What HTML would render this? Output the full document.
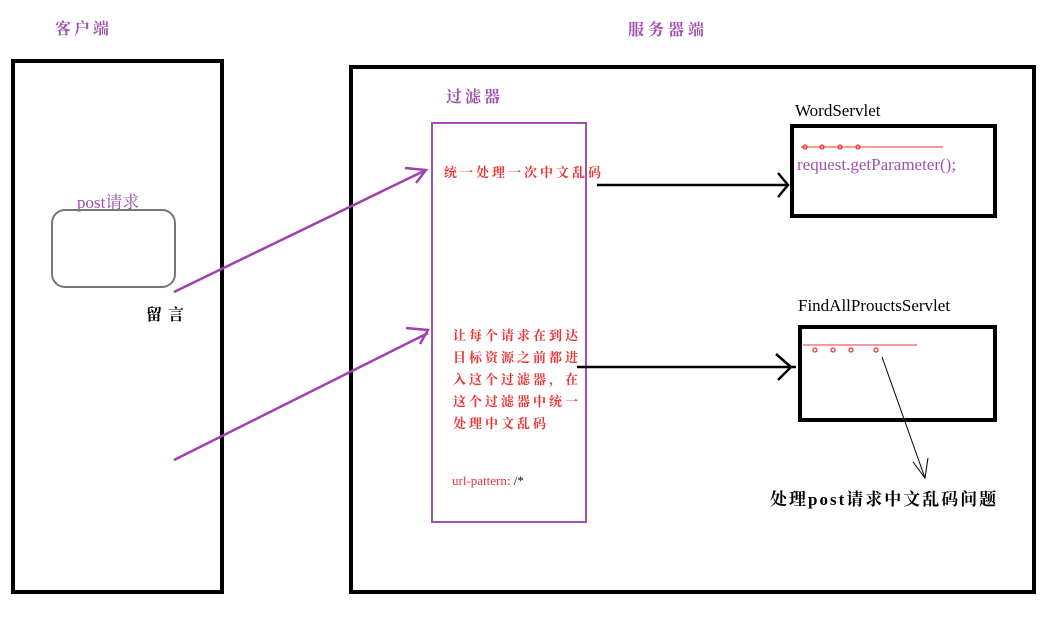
<!DOCTYPE html>
<html><head><meta charset="utf-8"><style>
body{margin:0;background:#fff;width:1041px;height:639px;overflow:hidden}
svg{display:block}
text{font-family:"Liberation Serif","Noto Serif CJK SC",serif}
</style></head><body>
<svg width="1041" height="639" viewBox="0 0 1041 639">
<text x="55" y="34" font-size="16" fill="#a050b0" font-weight="bold" letter-spacing="3">客户端</text>
<text x="628" y="35" font-size="16" fill="#a050b0" font-weight="bold" letter-spacing="4">服务器端</text>
<rect x="13" y="61" width="209" height="531" fill="none" stroke="#000" stroke-width="4"/>
<rect x="351" y="67" width="683" height="525" fill="none" stroke="#000" stroke-width="4"/>
<rect x="52" y="210" width="123" height="77" rx="13" fill="none" stroke="#777" stroke-width="2"/>
<text x="77" y="208" font-size="17" fill="#a050b0">post请求</text>
<text x="146" y="320" font-size="16" fill="#000" font-weight="bold" letter-spacing="6">留言</text>
<text x="446" y="102" font-size="16" fill="#a050b0" font-weight="bold" letter-spacing="3">过滤器</text>
<rect x="432" y="123" width="154" height="399" fill="none" stroke="#a050b0" stroke-width="2"/>
<text x="444" y="177" font-size="13" fill="#e33" font-weight="bold" letter-spacing="3">统一处理一次中文乱码</text>
<g font-size="13" fill="#e33" font-weight="bold" letter-spacing="3">
<text x="453" y="340">让每个请求在到达</text>
<text x="453" y="362">目标资源之前都进</text>
<text x="453" y="384">入这个过滤器，在</text>
<text x="453" y="406">这个过滤器中统一</text>
<text x="453" y="428">处理中文乱码</text>
</g>
<text x="452" y="485" font-size="13" fill="#e33" font-weight="normal">url-pattern: <tspan fill="#000">/*</tspan></text>
<g stroke="#a040b0" stroke-width="2.5" fill="none">
<line x1="174" y1="292" x2="426" y2="170"/>
<polyline points="405,168 426,170 416,183"/>
<line x1="174" y1="460" x2="428" y2="333"/>
<polyline points="406,328 428,330 420,344"/>
</g>
<g stroke="#000" stroke-width="2.5" fill="none">
<line x1="597" y1="185" x2="788" y2="185"/>
<polyline points="778,173 788,185 778,197"/>
<line x1="577" y1="367" x2="796" y2="367"/>
<polyline points="776,354 791,367 778,380"/>
</g>
<text x="795" y="116" font-size="17" fill="#000">WordServlet</text>
<rect x="792" y="126" width="203" height="90" fill="none" stroke="#000" stroke-width="4"/>
<line x1="801" y1="147" x2="943" y2="147" stroke="#e33" stroke-width="1"/>
<g fill="none" stroke="#e33" stroke-width="1.2"><circle cx="805" cy="147" r="2"/><circle cx="822" cy="147" r="2"/><circle cx="840" cy="147" r="2"/><circle cx="858" cy="147" r="2"/></g>
<text x="797" y="170" font-size="17" fill="#a050b0">request.getParameter();</text>
<text x="798" y="311" font-size="17" fill="#000">FindAllProuctsServlet</text>
<rect x="800" y="327" width="195" height="93" fill="none" stroke="#000" stroke-width="4"/>
<line x1="803" y1="345" x2="917" y2="345" stroke="#e33" stroke-width="1"/>
<g fill="none" stroke="#e33" stroke-width="1.2"><circle cx="815" cy="350" r="2"/><circle cx="833" cy="350" r="2"/><circle cx="851" cy="350" r="2"/><circle cx="876" cy="350" r="2"/></g>
<g stroke="#000" stroke-width="1" fill="none">
<line x1="882" y1="357" x2="925" y2="478"/>
<polyline points="913,462 925,478 928,458"/>
</g>
<text x="770" y="505" font-size="17" fill="#000" font-weight="bold" letter-spacing="2">处理post请求中文乱码问题</text>
</svg>
</body></html>
